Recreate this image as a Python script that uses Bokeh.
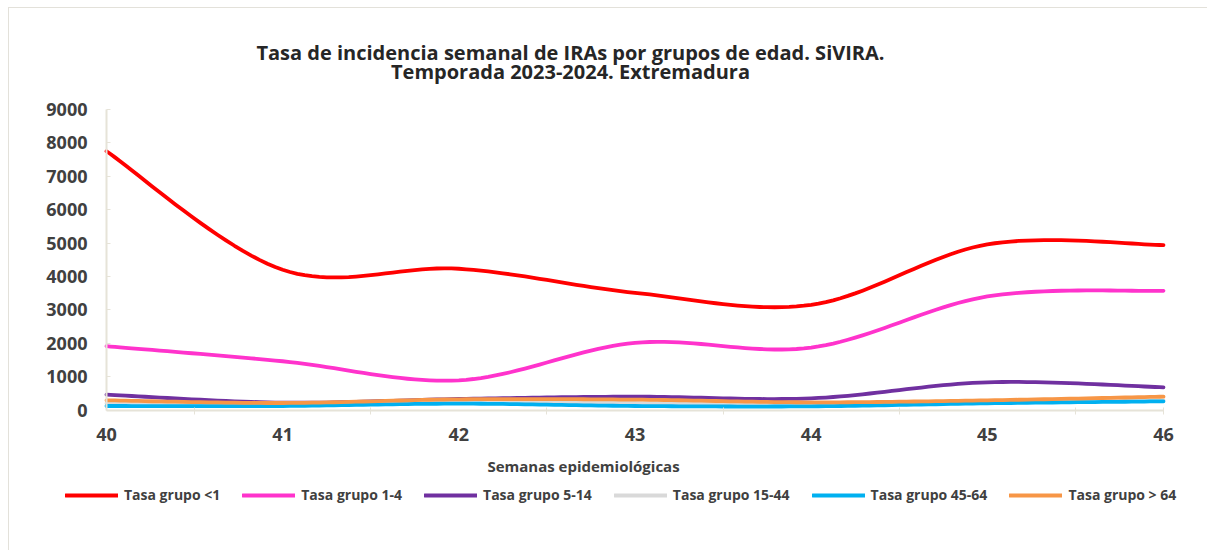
from bokeh.plotting import figure
from bokeh.models import FixedTicker, Label, Legend, LegendItem, Range1d
from bokeh.embed import file_html
from bokeh.resources import INLINE

weeks = [40, 41, 42, 43, 44, 45, 46]
grupo_menor1 = [7750, 4200, 4230, 3510, 3150, 4960, 4940]
grupo_1_4 = [1910, 1460, 890, 2010, 1870, 3400, 3570]
grupo_5_14 = [460, 220, 330, 400, 350, 830, 680]
grupo_15_44 = [200, 160, 230, 210, 180, 230, 290]
grupo_45_64 = [120, 120, 190, 120, 110, 200, 260]
grupo_mayor64 = [290, 210, 320, 310, 230, 290, 400]

series_names = ["Tasa grupo <1", "Tasa grupo 1-4", "Tasa grupo 5-14",
                "Tasa grupo 15-44", "Tasa grupo 45-64", "Tasa grupo > 64"]
series_values = [grupo_menor1, grupo_1_4, grupo_5_14, grupo_15_44, grupo_45_64, grupo_mayor64]
series_colors = ["#FF0000", "#FF33CC", "#7030A0", "#D9D9D9", "#00B0F0", "#F79646"]
y_ticks = [0, 1000, 2000, 3000, 4000, 5000, 6000, 7000, 8000, 9000]

title_line1 = "Tasa de incidencia semanal de IRAs por grupos de edad. SiVIRA."
title_line2 = "Temporada 2023-2024. Extremadura"
x_title = "Semanas epidemiológicas"

FONT = "Open Sans"
TXT = "#404040"
AX = "#E6E3D8"

# canvas geometry (pixels): plot area spans the whole canvas, axes are pinned inside it
W, H = 1199, 543
AX_LEFT, AX_RIGHT = 97, 1154      # canvas x of week 40 and week 46
AX_TOP, AX_BOTTOM = 101, 401.5    # canvas y of 9000 and 0

x_per_px = (weeks[-1] - weeks[0]) / (AX_RIGHT - AX_LEFT)
y_per_px = (y_ticks[-1] - y_ticks[0]) / (AX_BOTTOM - AX_TOP)
x_rng = Range1d(weeks[0] - AX_LEFT * x_per_px, weeks[-1] + (W - AX_RIGHT) * x_per_px)
y_rng = Range1d(y_ticks[0] - (H - AX_BOTTOM) * y_per_px, y_ticks[-1] + AX_TOP * y_per_px)


def smooth(xs, ys, n=24):
    """Excel-style smoothed line: cubic Bezier segments through the points."""
    px, py = [], []
    m = len(xs)
    for i in range(m - 1):
        x0, y0 = xs[i], ys[i]
        x3, y3 = xs[i + 1], ys[i + 1]
        xp, yp = (xs[i - 1], ys[i - 1]) if i > 0 else (x0, y0)
        xn, yn = (xs[i + 2], ys[i + 2]) if i + 2 < m else (x3, y3)
        x1, y1 = x0 + (x3 - xp) / 6.0, y0 + (y3 - yp) / 6.0
        x2, y2 = x3 - (xn - x0) / 6.0, y3 - (yn - y0) / 6.0
        for k in range(n + (1 if i == m - 2 else 0)):
            t = k / n
            a, b, c, d = (1 - t) ** 3, 3 * t * (1 - t) ** 2, 3 * t * t * (1 - t), t ** 3
            px.append(a * x0 + b * x1 + c * x2 + d * x3)
            py.append(a * y0 + b * y1 + c * y2 + d * y3)
    return px, py


p = figure(width=W, height=H, output_backend="svg", toolbar_location=None, title=None,
           x_range=x_rng, y_range=y_rng,
           min_border_left=0, min_border_right=0, min_border_top=0, min_border_bottom=0)
p.styles = {"border-top": "1px solid #E3E1DA", "border-left": "1px solid #E3E1DA",
            "margin-left": "8px", "margin-top": "7px"}
p.outline_line_color = None
p.xgrid.grid_line_color = None
p.ygrid.grid_line_color = None
p.background_fill_color = "white"
p.border_fill_color = "white"

renderers = []
for name, vals, col in zip(series_names, series_values, series_colors):
    sx, sy = smooth(weeks, vals)
    r = p.line(sx, sy, line_color=col, line_width=3.8, line_cap="round", line_join="round")
    renderers.append((name, r))

# axes pinned at week 40 / value 0
xa = p.xaxis[0]
xa.fixed_location = 0
xa.bounds = (weeks[0], weeks[-1])
xa.ticker = FixedTicker(ticks=weeks, minor_ticks=[w + 0.5 for w in weeks[:-1]] + [weeks[-1]])
xa.major_tick_line_color = None
xa.minor_tick_line_color = AX
xa.minor_tick_in = 3
xa.minor_tick_out = 4
xa.axis_line_color = AX
xa.axis_line_width = 2
xa.major_label_standoff = 12
xa.major_label_text_font = FONT
xa.major_label_text_font_style = "bold"
xa.major_label_text_font_size = "18px"
xa.major_label_text_color = TXT

ya = p.yaxis[0]
ya.fixed_location = weeks[0]
ya.bounds = (y_ticks[0], y_ticks[-1])
ya.ticker = FixedTicker(ticks=y_ticks, minor_ticks=[])
ya.major_tick_in = 4
ya.major_tick_out = 0
ya.major_tick_line_color = AX
ya.axis_line_color = AX
ya.axis_line_width = 2
ya.major_label_standoff = 19
ya.major_label_text_font = FONT
ya.major_label_text_font_style = "bold"
ya.major_label_text_font_size = "18px"
ya.major_label_text_color = TXT

# titles (screen units: from the bottom-left of the plot area)
for txt, yy in [(title_line1, H - 44), (title_line2, H - 63)]:
    p.add_layout(Label(x=561, y=yy, x_units="screen", y_units="screen", text=txt,
                       text_font=FONT, text_font_style="bold", text_font_size="20px",
                       text_color="#262626", text_align="center", text_baseline="middle"))
p.add_layout(Label(x=574, y=H - 457, x_units="screen", y_units="screen", text=x_title,
                   text_font=FONT, text_font_style="bold", text_font_size="15px",
                   text_color=TXT, text_align="center", text_baseline="middle"))

legend = Legend(items=[LegendItem(label=n, renderers=[r]) for n, r in renderers],
                orientation="horizontal", location=(56, 47),
                glyph_width=53, glyph_height=18, label_standoff=6, spacing=22,
                padding=0, margin=0, border_line_color=None, background_fill_alpha=0,
                label_text_font=FONT, label_text_font_style="bold",
                label_text_font_size="14px", label_text_color=TXT)
p.add_layout(legend, "center")

open("out.html", "w").write(file_html(p, INLINE))
